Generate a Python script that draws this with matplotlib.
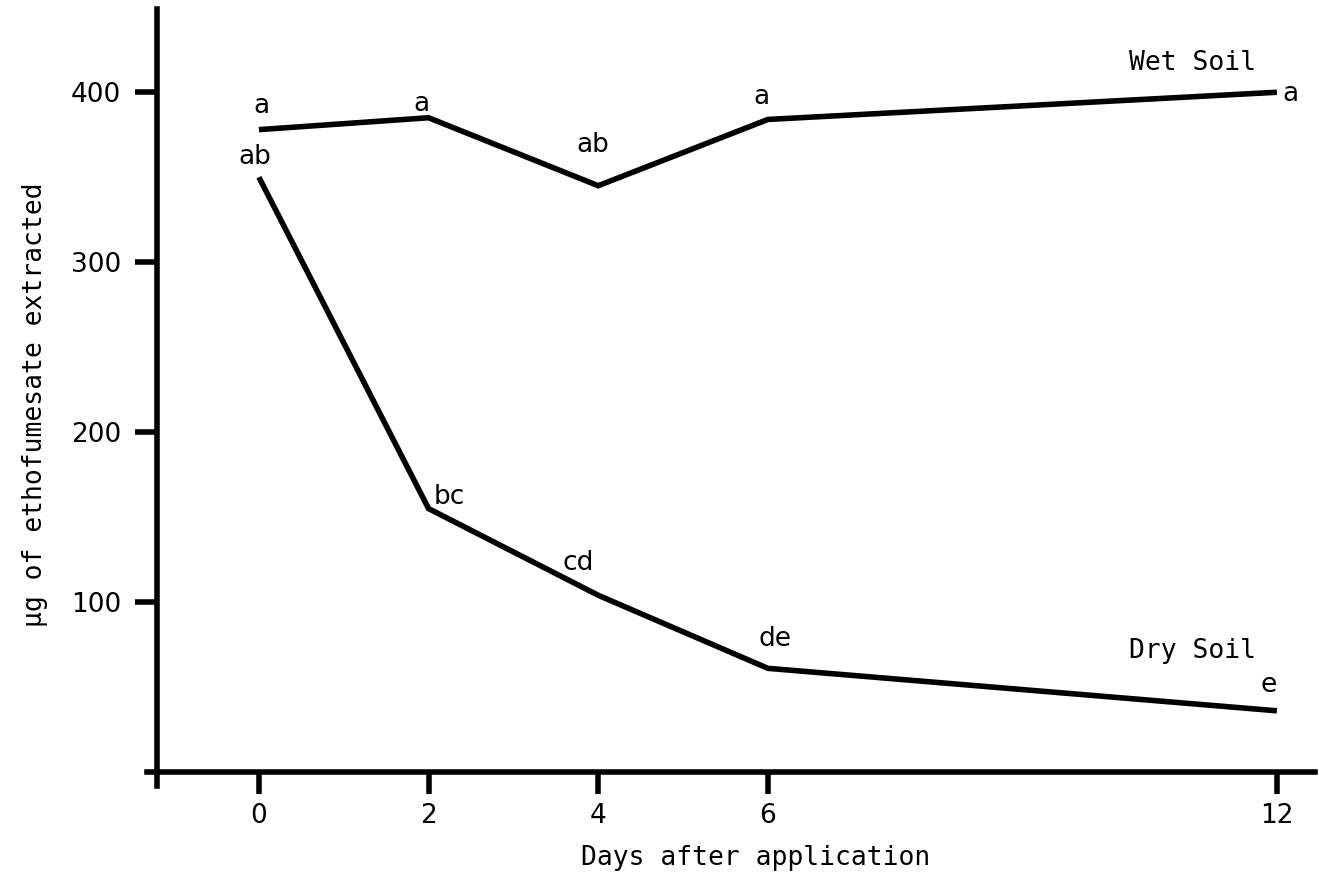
import matplotlib
matplotlib.use("Agg")
import matplotlib.pyplot as plt

# ---- data ----
days = [0, 2, 4, 6, 12]
tick_labels = ["0", "2", "4", "6", "12"]
wet_soil = [378, 385, 345, 384, 400]
dry_soil = [350, 155, 104, 61, 36]
wet_letters = ["a", "a", "ab", "a", "a"]
dry_letters = ["ab", "bc", "cd", "de", "e"]
y_ticks = [100, 200, 300, 400]

# label centre offsets (days, value) relative to each point
wet_off = [(0.03, 14), (-0.08, 8), (-0.06, 24), (-0.08, 13), (0.06, -1)]
dry_off = [(-0.05, 12), (0.25, 7), (-0.24, 19), (0.08, 17), (-0.1, 15)]

mono = "DejaVu Sans Mono"
sans = "DejaVu Sans"

fig = plt.figure(figsize=(13.19, 8.81), dpi=100)
ax = fig.add_axes([0.1114, 0.1083, 0.997 - 0.1114, 0.9898 - 0.1083])

lw = 4.0
ax.plot(days, wet_soil, color="black", lw=lw, solid_joinstyle="miter", solid_capstyle="butt")
ax.plot(days, dry_soil, color="black", lw=lw, solid_joinstyle="miter", solid_capstyle="butt")

for x, y, t, (dx, dy) in zip(days, wet_soil, wet_letters, wet_off):
    ha = "left" if x == 12 else "center"
    ax.text(x + dx, y + dy, t, ha=ha, va="center", fontsize=19, family=sans)
for x, y, t, (dx, dy) in zip(days, dry_soil, dry_letters, dry_off):
    ax.text(x + dx, y + dy, t, ha="center", va="center", fontsize=19, family=sans)

ax.text(11.0, 417, "Wet Soil", ha="center", va="center", fontsize=19, family=mono)
ax.text(11.0, 71, "Dry Soil", ha="center", va="center", fontsize=19, family=mono)

ax.set_xlim(-1.32, 12.45)
ax.set_ylim(-8, 449)

for s in ["top", "right"]:
    ax.spines[s].set_visible(False)
ax.spines["left"].set_position(("data", -1.2))
ax.spines["bottom"].set_position(("data", 0))
ax.spines["left"].set_linewidth(4)
ax.spines["bottom"].set_linewidth(4)
ax.spines["left"].set_bounds(-8, 449)

ax.set_xticks(days)
ax.set_xticklabels(tick_labels)
ax.set_yticks(y_ticks)
ax.set_yticklabels([str(v) for v in y_ticks])
ax.tick_params(axis="x", direction="out", length=16, width=4, pad=6, labelsize=19)
ax.tick_params(axis="y", direction="out", length=16, width=4, pad=10, labelsize=19)
for lab in ax.get_xticklabels() + ax.get_yticklabels():
    lab.set_family(sans)

fig.text(756 / 1319, 1 - 858 / 881, "Days after application", ha="center", va="center",
         fontsize=19, family=mono)
fig.text(35 / 1319, 1 - 405 / 881, "µg of ethofumesate extracted", ha="center", va="center",
         rotation=90, fontsize=19, family=mono)

fig.savefig("out.png", dpi=100, facecolor="white")
